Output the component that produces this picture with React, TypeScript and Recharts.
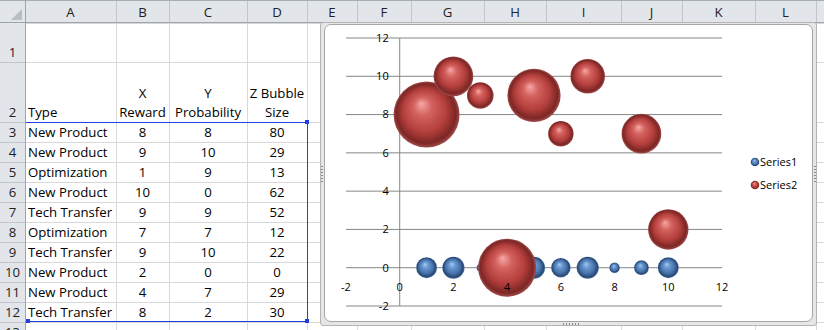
import React from 'react';
import {
  ScatterChart,
  Scatter,
  XAxis,
  YAxis,
  ZAxis,
  CartesianGrid,
  ReferenceDot,
  Legend,
} from 'recharts';

// ---------- spreadsheet data ----------
const columnLetters = ['A', 'B', 'C', 'D', 'E', 'F', 'G', 'H', 'I', 'J', 'K', 'L'];
const rowNumbers = [1, 2, 3, 4, 5, 6, 7, 8, 9, 10, 11, 12, 13];
const typeHeader = 'Type';
const headerLines = [
  ['X', 'Reward'],
  ['Y', 'Probability'],
  ['Z Bubble', 'Size'],
];
const types = [
  'New Product',
  'New Product',
  'Optimization',
  'New Product',
  'Tech Transfer',
  'Optimization',
  'Tech Transfer',
  'New Product',
  'New Product',
  'Tech Transfer',
];
const reward = [8, 9, 1, 10, 9, 7, 9, 2, 4, 8];
const probability = [8, 10, 9, 0, 9, 7, 10, 0, 7, 2];
const bubbleSize = [80, 29, 13, 62, 52, 12, 22, 0, 29, 30];

// ---------- chart data ----------
const pointX = [1, 2, 3, 4, 5, 6, 7, 8, 9, 10];
const series1Y = [0, 0, 0, 0, 0, 0, 0, 0, 0, 0];
const xTicks = [-2, 0, 2, 4, 6, 8, 10, 12];
const yTicks = [-2, 0, 2, 4, 6, 8, 10, 12];
const yAxisCross = [0];
const seriesNames = ['Series1', 'Series2'];

const series1 = pointX.map((x, i) => ({ x, y: series1Y[i], z: reward[i] }));
const series2 = pointX.map((x, i) => ({ x, y: probability[i], z: bubbleSize[i] }));
const zMax = Math.max(...bubbleSize, ...reward);

// ---------- layout / style ----------
const colEdges = [25, 116, 169, 247, 307, 357, 411, 484, 546, 621, 682, 755, 816, 880];
const rowEdges = [23, 62, 122, 142, 162, 182, 202, 222, 242, 262, 282, 302, 322, 342];
const HEADER_BG = '#E2E5E9';
const HEADER_SEP = '#C2C6CC';
const HEADER_EDGE = '#9EA4AB';
const CELL_LINE = '#D8D8D8';
const SHEET_FONT = '"Open Sans", sans-serif';
const SHEET_SIZE = 13.2;
const CHART_FONT = '"Open Sans", sans-serif';
const GRID = '#878787';
const MAX_BUBBLE_R = 33;
const gradIds = ['bubbleBlue', 'bubbleRed'];
const baseColors = ['#4F81BD', '#C0504D'];

const abs = (s: React.CSSProperties): React.CSSProperties => ({ position: 'absolute', ...s });

function Sheet() {
  const els: React.ReactNode[] = [];
  colEdges.forEach((x, i) =>
    els.push(<div key={'cv' + i} style={abs({ left: x, top: 23, width: 1, height: 320, background: CELL_LINE })} />)
  );
  rowEdges.forEach((y, i) =>
    els.push(<div key={'rh' + i} style={abs({ left: 25, top: y, width: 800, height: 1, background: CELL_LINE })} />)
  );
  els.push(<div key="colhdr" style={abs({ left: 0, top: 0, width: 824, height: 23, background: HEADER_BG })} />);
  els.push(<div key="colhdrTop" style={abs({ left: 0, top: 0, width: 824, height: 1, background: '#A9AEB5' })} />);
  els.push(<div key="colhdrBot" style={abs({ left: 0, top: 22, width: 824, height: 1, background: HEADER_EDGE })} />);
  els.push(<div key="rowhdr" style={abs({ left: 0, top: 23, width: 25, height: 320, background: HEADER_BG })} />);
  els.push(<div key="rowhdrR" style={abs({ left: 25, top: 0, width: 1, height: 330, background: HEADER_EDGE })} />);
  els.push(
    <svg key="tri" style={abs({ left: 0, top: 0 })} width={25} height={22}>
      <polygon points="22,9 22,20 11,20" fill="#B9BEC5" />
    </svg>
  );
  colEdges.slice(0, -1).forEach((left, i) => {
    const w = colEdges[i + 1] - left;
    els.push(
      <div key={'cs' + i} style={abs({ left: left + w, top: 1, width: 1, height: 21, background: HEADER_SEP })} />
    );
    if (columnLetters[i]) {
      els.push(
        <div
          key={'cl' + i}
          style={abs({
            left,
            top: 2,
            width: w,
            height: 20,
            lineHeight: '21px',
            textAlign: 'center',
            fontFamily: SHEET_FONT,
            fontSize: SHEET_SIZE,
            color: '#222',
          })}
        >
          {columnLetters[i]}
        </div>
      );
    }
  });
  rowNumbers.forEach((n, i) => {
    const top = rowEdges[i];
    const h = rowEdges[i + 1] - top;
    els.push(<div key={'rs' + i} style={abs({ left: 0, top: top + h, width: 25, height: 1, background: HEADER_SEP })} />);
    els.push(
      <div
        key={'rn' + i}
        style={abs({
          left: 0,
          top: top + h - 20,
          width: 25,
          height: 20,
          lineHeight: '20px',
          textAlign: 'center',
          fontFamily: SHEET_FONT,
          fontSize: SHEET_SIZE,
          color: '#222',
        })}
      >
        {n}
      </div>
    );
  });
  const textStyle = (left: number, width: number, top: number, align: 'left' | 'center'): React.CSSProperties =>
    abs({
      left,
      top,
      width,
      height: 20,
      lineHeight: '20px',
      textAlign: align,
      paddingLeft: align === 'left' ? 3 : 0,
      boxSizing: 'border-box',
      whiteSpace: 'nowrap',
      fontFamily: SHEET_FONT,
      fontSize: SHEET_SIZE,
      color: '#000',
    });
  els.push(
    <div key="hType" style={textStyle(colEdges[0], colEdges[1] - colEdges[0], rowEdges[2] - 20, 'left')}>
      {typeHeader}
    </div>
  );
  headerLines.forEach((lines, j) => {
    const left = colEdges[j + 1];
    const w = colEdges[j + 2] - left;
    lines.forEach((t, k) => {
      els.push(
        <div
          key={'h' + j + '_' + k}
          style={{ ...textStyle(left, w, rowEdges[2] - 19 * (lines.length - k), 'center'), height: 19, lineHeight: '19px' }}
        >
          {t}
        </div>
      );
    });
  });
  types.forEach((t, i) => {
    const top = rowEdges[i + 2];
    els.push(
      <div key={'t' + i} style={textStyle(colEdges[0], colEdges[1] - colEdges[0], top, 'left')}>
        {t}
      </div>
    );
    [reward[i], probability[i], bubbleSize[i]].forEach((v, j) => {
      const left = colEdges[j + 1];
      els.push(
        <div key={'v' + i + '_' + j} style={textStyle(left, colEdges[j + 2] - left, top, 'center')}>
          {v}
        </div>
      );
    });
  });
  const BLUE = '#1F3FE0';
  els.push(<div key="bt" style={abs({ left: 26, top: 122, width: 282, height: 1, background: BLUE })} />);
  els.push(<div key="bb" style={abs({ left: 26, top: 321, width: 282, height: 1, background: BLUE })} />);
  els.push(<div key="br" style={abs({ left: 307, top: 122, width: 1, height: 200, background: BLUE })} />);
  els.push(<div key="hTR" style={abs({ left: 305, top: 120, width: 4, height: 4, background: BLUE })} />);
  els.push(<div key="hBL" style={abs({ left: 26, top: 319, width: 4, height: 4, background: BLUE })} />);
  els.push(<div key="hBR" style={abs({ left: 305, top: 319, width: 4, height: 4, background: BLUE })} />);
  return <>{els}</>;
}

const makeBubble = (idx: number) => (props: any) => {
  const { cx, cy } = props;
  const r = props.width != null ? props.width / 2 : Math.sqrt(Math.max(props.size || 0, 0) / Math.PI);
  if (!(r > 0.5) || cx == null || cy == null) return <g />;
  return <circle cx={cx} cy={cy} r={r} fill={`url(#${gradIds[idx]})`} />;
};

const LegendContent = (props: any) => {
  const payload = props.payload || [];
  return (
    <div style={{ display: 'flex', flexDirection: 'column' }}>
      {payload.map((entry: any, i: number) => (
        <div key={i} style={{ display: 'flex', alignItems: 'center', height: 23 }}>
          <svg width={10} height={10} style={{ display: 'block' }}>
            <circle cx={5} cy={5} r={4.3} fill={`url(#${gradIds[i]})`} />
          </svg>
          <span style={{ fontFamily: CHART_FONT, fontSize: 11, color: '#000' }}>{entry.value}</span>
        </div>
      ))}
    </div>
  );
};

function Gradients() {
  return (
    <svg width={0} height={0} style={{ position: 'absolute' }}>
      <defs>
        <radialGradient id="bubbleRed" cx="50%" cy="50%" r="50%" fx="42%" fy="33%">
          <stop offset="0%" stopColor="#F7A9A7" />
          <stop offset="28%" stopColor="#D4625F" />
          <stop offset="65%" stopColor="#B43F3C" />
          <stop offset="90%" stopColor="#7C2725" />
          <stop offset="100%" stopColor="#A04C4A" />
        </radialGradient>
        <radialGradient id="bubbleBlue" cx="50%" cy="50%" r="50%" fx="42%" fy="33%">
          <stop offset="0%" stopColor="#A9CBF0" />
          <stop offset="28%" stopColor="#6B99D2" />
          <stop offset="65%" stopColor="#4873AC" />
          <stop offset="90%" stopColor="#284874" />
          <stop offset="100%" stopColor="#4D73A2" />
        </radialGradient>
      </defs>
    </svg>
  );
}

const emptyTick = () => <g />;

const scaleOf = (axis: any) => {
  const s = axis && axis.scale;
  if (typeof s === 'function') return s;
  if (s && typeof s.map === 'function') return (v: number) => s.map(v);
  return null;
};

export default function App() {
  return (
    <div
      style={{
        position: 'fixed',
        left: 0,
        top: 0,
        width: 824,
        height: 330,
        overflow: 'hidden',
        background: '#FFFFFF',
      }}
    >
      <Gradients />
      <Sheet />
      <div style={abs({ left: 320, top: 22, width: 497, height: 304, background: '#E6E6E6', border: '1px solid #B4B4B4', borderRadius: 3, boxSizing: 'border-box' })} />
      <div style={abs({ left: 324, top: 24, width: 489, height: 298, background: '#FFFFFF', border: '1px solid #A6A6A6', borderRadius: 7, boxSizing: 'border-box' })} />
      <div style={abs({ left: 562, top: 323, width: 18, height: 2, backgroundImage: 'radial-gradient(#8C8C8C 45%, transparent 50%)', backgroundSize: '3px 2px' })} />
      <div style={abs({ left: 321, top: 165, width: 2, height: 18, backgroundImage: 'radial-gradient(#8C8C8C 45%, transparent 50%)', backgroundSize: '2px 3px' })} />
      <div style={abs({ left: 814, top: 165, width: 2, height: 18, backgroundImage: 'radial-gradient(#8C8C8C 45%, transparent 50%)', backgroundSize: '2px 3px' })} />
      <div style={abs({ left: 324, top: 24 })}>
        <ScatterChart width={489} height={298} margin={{ top: 14, right: 91, bottom: 16, left: 22 }}>
          <XAxis type="number" dataKey="x" domain={[-2, 12]} ticks={xTicks} interval={0} height={0} tick={emptyTick} axisLine={false} tickLine={false} />
          <YAxis type="number" dataKey="y" domain={[-2, 12]} ticks={yTicks} interval={0} width={0} tick={emptyTick} axisLine={false} tickLine={false} />
          <ZAxis type="number" dataKey="z" domain={[0, zMax]} range={[0, Math.PI * MAX_BUBBLE_R * MAX_BUBBLE_R]} />
          <CartesianGrid
            stroke={GRID}
            strokeWidth={1}
            horizontalCoordinatesGenerator={(args: any) => {
              const s = scaleOf(args.yAxis);
              return s ? yTicks.map((t) => s(t)) : [];
            }}
            verticalCoordinatesGenerator={(args: any) => {
              const s = scaleOf(args.xAxis);
              return s ? yAxisCross.map((t) => s(t)) : [];
            }}
          />
          <Scatter name={seriesNames[0]} data={series1} fill={baseColors[0]} shape={makeBubble(0)} isAnimationActive={false} />
          <Scatter name={seriesNames[1]} data={series2} fill={baseColors[1]} shape={makeBubble(1)} isAnimationActive={false} />
          {xTicks.map((t) => (
            <ReferenceDot
              key={'xl' + t}
              x={t}
              y={0}
              r={0}
              fill="none"
              stroke="none"
              ifOverflow="visible"
              label={{ value: String(t), position: 'bottom', offset: 15, fill: '#000', fontSize: 11, fontFamily: CHART_FONT }}
            />
          ))}
          {yTicks.map((t) => (
            <ReferenceDot
              key={'yl' + t}
              x={0}
              y={t}
              r={0}
              fill="none"
              stroke="none"
              ifOverflow="visible"
              label={{ value: String(t), position: 'left', offset: 11, fill: '#000', fontSize: 11, fontFamily: CHART_FONT }}
            />
          ))}
          <Legend
            layout="vertical"
            align="center"
            verticalAlign="middle"
            content={<LegendContent />}
            wrapperStyle={{ left: 426, width: 80 }}
          />
        </ScatterChart>
      </div>
    </div>
  );
}
